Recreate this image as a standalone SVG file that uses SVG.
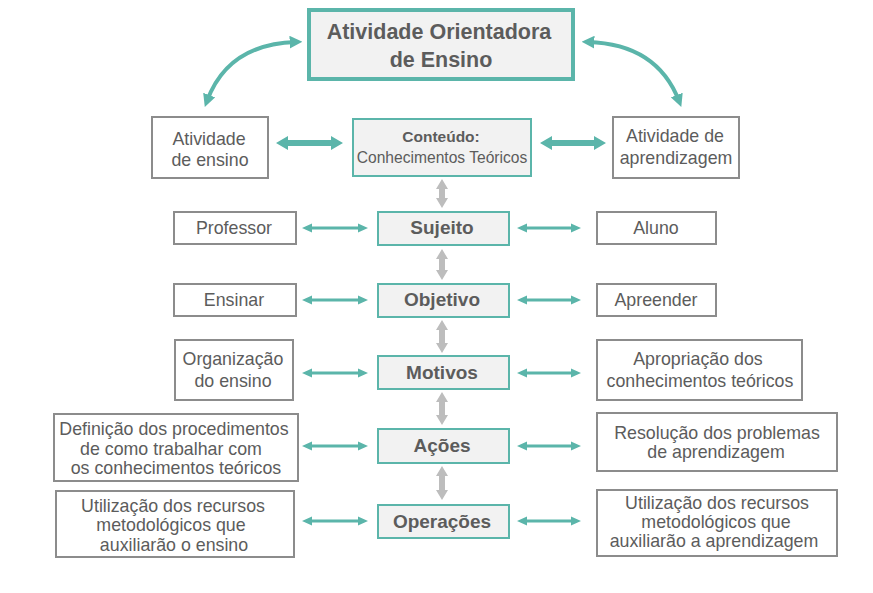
<svg xmlns="http://www.w3.org/2000/svg" width="873" height="593" viewBox="0 0 873 593">
<style>
text{font-family:"Liberation Sans",Arial,sans-serif;fill:#5c5c5c;text-anchor:middle}
.side{fill:#fff;stroke:#8c8c8c;stroke-width:2}
.ctr{fill:#f2f2f2;stroke:#5bb5aa;stroke-width:2}
.s{font-size:17.8px}
.c{font-size:19px;font-weight:bold}
.ta{fill:#5bb5aa}
.ga{fill:#bdbdbd}
</style>
<defs>
<marker id="ah" viewBox="0 0 10 10" refX="5" refY="5" markerWidth="3.2" markerHeight="3.2" orient="auto-start-reverse" markerUnits="strokeWidth">
<path d="M0,0 L10,5 L0,10 z" fill="#5bb5aa"/>
</marker>
</defs>
<rect width="873" height="593" fill="#fff"/>
<g id="connectors">
<path d="M296,42 Q228,44 207,101" fill="none" stroke="#5bb5aa" stroke-width="4" marker-start="url(#ah)" marker-end="url(#ah)"/>
<path d="M588,42 Q657,44 679,101" fill="none" stroke="#5bb5aa" stroke-width="4" marker-start="url(#ah)" marker-end="url(#ah)"/>
<polygon class="ta" points="276,143 288,136 288,140 331,140 331,136 343,143 331,150 331,146 288,146 288,150"/>
<polygon class="ta" points="540,143 552,136 552,140 594,140 594,136 606,143 594,150 594,146 552,146 552,150"/>
<g id="thin">
<polygon class="ta" points="302,228 312,223.5 312,226.5 358,226.5 358,223.5 368,228 358,232.5 358,229.5 312,229.5 312,232.5"/>
<polygon class="ta" points="517,228 527,223.5 527,226.5 571,226.5 571,223.5 581,228 571,232.5 571,229.5 527,229.5 527,232.5"/>
<polygon class="ta" points="302,300 312,295.5 312,298.5 358,298.5 358,295.5 368,300 358,304.5 358,301.5 312,301.5 312,304.5"/>
<polygon class="ta" points="517,300 527,295.5 527,298.5 571,298.5 571,295.5 581,300 571,304.5 571,301.5 527,301.5 527,304.5"/>
<polygon class="ta" points="302,373 312,368.5 312,371.5 358,371.5 358,368.5 368,373 358,377.5 358,374.5 312,374.5 312,377.5"/>
<polygon class="ta" points="517,373 527,368.5 527,371.5 571,371.5 571,368.5 581,373 571,377.5 571,374.5 527,374.5 527,377.5"/>
<polygon class="ta" points="302,446 312,441.5 312,444.5 358,444.5 358,441.5 368,446 358,450.5 358,447.5 312,447.5 312,450.5"/>
<polygon class="ta" points="517,446 527,441.5 527,444.5 571,444.5 571,441.5 581,446 571,450.5 571,447.5 527,447.5 527,450.5"/>
<polygon class="ta" points="302,521 312,516.5 312,519.5 358,519.5 358,516.5 368,521 358,525.5 358,522.5 312,522.5 312,525.5"/>
<polygon class="ta" points="517,521 527,516.5 527,519.5 571,519.5 571,516.5 581,521 571,525.5 571,522.5 527,522.5 527,525.5"/>
</g>
<g id="vertical">
<polygon class="ga" points="442,179 448,189 445,189 445,198 448,198 442,208 436,198 439,198 439,189 436,189"/>
<polygon class="ga" points="442,249 448,259 445,259 445,270 448,270 442,280 436,270 439,270 439,259 436,259"/>
<polygon class="ga" points="442,320 448,330 445,330 445,343 448,343 442,353 436,343 439,343 439,330 436,330"/>
<polygon class="ga" points="442,392 448,402 445,402 445,415 448,415 442,425 436,415 439,415 439,402 436,402"/>
<polygon class="ga" points="442,466 448,476 445,476 445,490 448,490 442,500 436,490 439,490 439,476 436,476"/>
</g>
</g>
<g id="aoe">
<rect x="309" y="10" width="264" height="69" fill="#f2f2f2" stroke="#5bb5aa" stroke-width="4"/>
<text x="439" y="39" style="font-size:21.5px;font-weight:bold">Atividade Orientadora</text>
<text x="441" y="67" style="font-size:21.5px;font-weight:bold">de Ensino</text>
</g>
<g id="ativ-ensino">
<rect class="side" x="152" y="117" width="116" height="61"/>
<text class="s" x="209" y="145">Atividade</text>
<text class="s" x="210" y="166">de ensino</text>
</g>
<g id="conteudo">
<rect class="ctr" x="353" y="119" width="178" height="57"/>
<text x="441" y="142" style="font-size:15.5px;font-weight:bold">Conteúdo:</text>
<text x="442" y="163" style="font-size:15.6px">Conhecimentos Teóricos</text>
</g>
<g id="ativ-aprend">
<rect class="side" x="613" y="117" width="126" height="61"/>
<text class="s" x="675" y="142">Atividade de</text>
<text class="s" x="676" y="164">aprendizagem</text>
</g>
<g id="professor">
<rect class="side" x="174" y="212" width="122" height="32"/>
<text class="s" x="234" y="234">Professor</text>
</g>
<g id="sujeito">
<rect class="ctr" x="378" y="212" width="131" height="33"/>
<text class="c" x="442" y="234">Sujeito</text>
</g>
<g id="aluno">
<rect class="side" x="597" y="212" width="119" height="32"/>
<text class="s" x="656" y="234">Aluno</text>
</g>
<g id="ensinar">
<rect class="side" x="174" y="284" width="122" height="32"/>
<text class="s" x="234" y="306">Ensinar</text>
</g>
<g id="objetivo">
<rect class="ctr" x="378" y="284" width="131" height="33"/>
<text class="c" x="442" y="306">Objetivo</text>
</g>
<g id="apreender">
<rect class="side" x="597" y="284" width="119" height="32"/>
<text class="s" x="656" y="306">Apreender</text>
</g>
<g id="organizacao">
<rect class="side" x="175" y="340" width="118" height="60"/>
<text class="s" x="233" y="365">Organização</text>
<text class="s" x="233" y="387">do ensino</text>
</g>
<g id="motivos">
<rect class="ctr" x="378" y="356" width="131" height="33"/>
<text class="c" x="442" y="379">Motivos</text>
</g>
<g id="apropriacao">
<rect class="side" x="597" y="340" width="205" height="60"/>
<text class="s" x="698" y="365">Apropriação dos</text>
<text class="s" x="700" y="387">conhecimentos teóricos</text>
</g>
<g id="definicao">
<rect class="side" x="54" y="414" width="244" height="67"/>
<text class="s" x="174" y="435">Definição dos procedimentos</text>
<text class="s" x="171" y="455">de como trabalhar com</text>
<text class="s" x="176" y="474">os conhecimentos teóricos</text>
</g>
<g id="acoes">
<rect class="ctr" x="378" y="429" width="131" height="34"/>
<text class="c" x="442" y="452">Ações</text>
</g>
<g id="resolucao">
<rect class="side" x="597" y="413" width="240" height="58"/>
<text class="s" x="717" y="439">Resolução dos problemas</text>
<text class="s" x="716" y="458">de aprendizagem</text>
</g>
<g id="util-ensino">
<rect class="side" x="56" y="491" width="238" height="66"/>
<text class="s" x="173" y="512">Utilização dos recursos</text>
<text class="s" x="171" y="531">metodológicos que</text>
<text class="s" x="174" y="551">auxiliarão o ensino</text>
</g>
<g id="operacoes">
<rect class="ctr" x="378" y="505" width="131" height="33"/>
<text class="c" x="442" y="528">Operações</text>
</g>
<g id="util-aprend">
<rect class="side" x="597" y="490" width="240" height="66"/>
<text class="s" x="717" y="509">Utilização dos recursos</text>
<text class="s" x="716" y="528">metodológicos que</text>
<text class="s" x="714" y="547">auxiliarão a aprendizagem</text>
</g>
</svg>
